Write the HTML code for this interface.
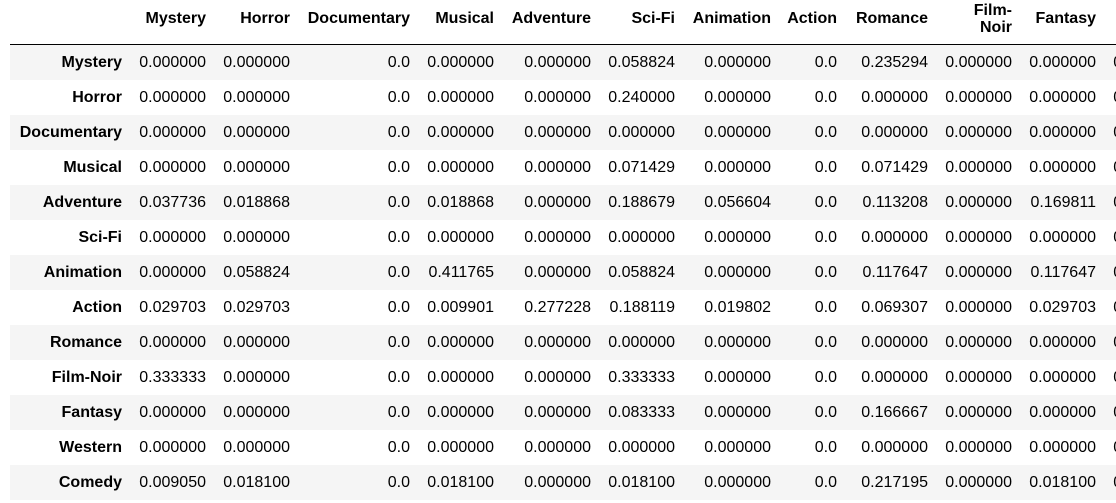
<!DOCTYPE html>
<html><head><meta charset="utf-8">
<style>
html,body{margin:0;padding:0;background:#fff;width:1116px;height:503px;overflow:hidden}
#wrap{position:absolute;left:0;top:0;width:1116px;height:503px;overflow:hidden}
table{position:absolute;left:10px;top:1px;width:1178px;border-collapse:collapse;table-layout:fixed;font-family:"Liberation Sans",Arial,sans-serif;font-size:16px;color:#000}
th,td{text-align:right;padding:0 8px;white-space:nowrap;overflow:visible}
thead th{height:35px;padding-bottom:8px;vertical-align:middle;line-height:17px;border-bottom:1px solid #000;font-weight:bold}
tbody td,tbody th{height:35px;line-height:17px;vertical-align:middle;padding-top:1px;box-sizing:border-box}
tbody th{font-weight:bold}
tbody tr:nth-child(odd){background:#f5f5f5}
</style></head><body>
<div id="wrap">
<table id="t">
<colgroup><col style="width:120px"><col style="width:84px"><col style="width:84px"><col style="width:120px"><col style="width:84px"><col style="width:97px"><col style="width:84px"><col style="width:96px"><col style="width:66px"><col style="width:91px"><col style="width:84px"><col style="width:84px"><col style="width:84px"></colgroup>
<thead><tr id="hr"></tr></thead>
<tbody id="tb"></tbody>
</table>
</div>
<script>
const columns=["Mystery","Horror","Documentary","Musical","Adventure","Sci-Fi","Animation","Action","Romance","Film-Noir","Fantasy",""];
const rowLabels=["Mystery","Horror","Documentary","Musical","Adventure","Sci-Fi","Animation","Action","Romance","Film-Noir","Fantasy","Western","Comedy"];
const vMystery=["0.000000","0.000000","0.0","0.000000","0.000000","0.058824","0.000000","0.0","0.235294","0.000000","0.000000","0.000000"];
const vHorror=["0.000000","0.000000","0.0","0.000000","0.000000","0.240000","0.000000","0.0","0.000000","0.000000","0.000000","0.000000"];
const vDocumentary=["0.000000","0.000000","0.0","0.000000","0.000000","0.000000","0.000000","0.0","0.000000","0.000000","0.000000","0.000000"];
const vMusical=["0.000000","0.000000","0.0","0.000000","0.000000","0.071429","0.000000","0.0","0.071429","0.000000","0.000000","0.000000"];
const vAdventure=["0.037736","0.018868","0.0","0.018868","0.000000","0.188679","0.056604","0.0","0.113208","0.000000","0.169811","0.000000"];
const vSciFi=["0.000000","0.000000","0.0","0.000000","0.000000","0.000000","0.000000","0.0","0.000000","0.000000","0.000000","0.000000"];
const vAnimation=["0.000000","0.058824","0.0","0.411765","0.000000","0.058824","0.000000","0.0","0.117647","0.000000","0.117647","0.000000"];
const vAction=["0.029703","0.029703","0.0","0.009901","0.277228","0.188119","0.019802","0.0","0.069307","0.000000","0.029703","0.000000"];
const vRomance=["0.000000","0.000000","0.0","0.000000","0.000000","0.000000","0.000000","0.0","0.000000","0.000000","0.000000","0.000000"];
const vFilmNoir=["0.333333","0.000000","0.0","0.000000","0.000000","0.333333","0.000000","0.0","0.000000","0.000000","0.000000","0.000000"];
const vFantasy=["0.000000","0.000000","0.0","0.000000","0.000000","0.083333","0.000000","0.0","0.166667","0.000000","0.000000","0.000000"];
const vWestern=["0.000000","0.000000","0.0","0.000000","0.000000","0.000000","0.000000","0.0","0.000000","0.000000","0.000000","0.000000"];
const vComedy=["0.009050","0.018100","0.0","0.018100","0.000000","0.018100","0.000000","0.0","0.217195","0.000000","0.018100","0.000000"];
const values=[vMystery,vHorror,vDocumentary,vMusical,vAdventure,vSciFi,vAnimation,vAction,vRomance,vFilmNoir,vFantasy,vWestern,vComedy];
const slug=s=>s.toLowerCase().replace(/[^a-z0-9]+/g,'-');
const hr=document.getElementById('hr');
const corner=document.createElement('th');


hr.appendChild(corner);
columns.forEach(c=>{
  const th=document.createElement('th');
  
  
  if(c==='Film-Noir'){th.innerHTML='Film-<br>Noir';}else th.textContent=c;
  hr.appendChild(th);
});
const tb=document.getElementById('tb');
rowLabels.forEach((r,i)=>{
  const tr=document.createElement('tr');
  
  
  const th=document.createElement('th');
  
  
  th.textContent=r;
  tr.appendChild(th);
  values[i].forEach((v,j)=>{
    const td=document.createElement('td');
    
    
    td.textContent=v;
    tr.appendChild(td);
  });
  tb.appendChild(tr);
});
</script>
</body></html>
